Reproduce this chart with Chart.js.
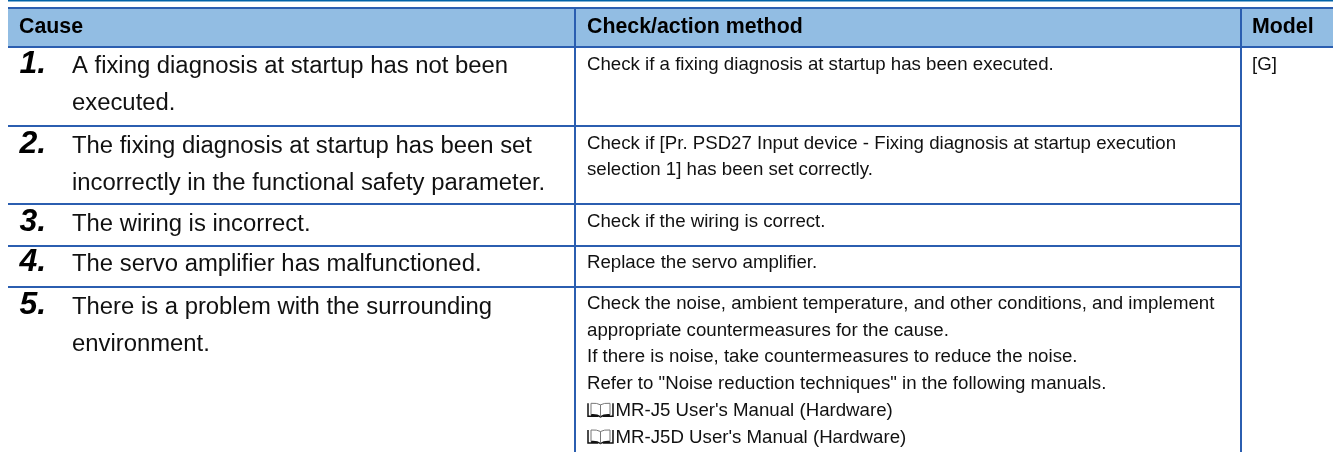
<!DOCTYPE html>
<html><head><meta charset="utf-8">
<style>html,body{margin:0;padding:0;background:#fff}canvas{display:block}</style>
<script src="https://cdn.jsdelivr.net/npm/chart.js@4"></script>
</head><body><canvas id="c" width="1333" height="452"></canvas>
<script>
const headers = ["Cause", "Check/action method", "Model"];
const numbers = ["1.", "2.", "3.", "4.", "5."];
const causes = [
  ["A fixing diagnosis at startup has not been", "executed."],
  ["The fixing diagnosis at startup has been set", "incorrectly in the functional safety parameter."],
  ["The wiring is incorrect."],
  ["The servo amplifier has malfunctioned."],
  ["There is a problem with the surrounding", "environment."]
];
const methods = [
  ["Check if a fixing diagnosis at startup has been executed."],
  ["Check if [Pr. PSD27 Input device - Fixing diagnosis at startup execution", "selection 1] has been set correctly."],
  ["Check if the wiring is correct."],
  ["Replace the servo amplifier."],
  ["Check the noise, ambient temperature, and other conditions, and implement",
   "appropriate countermeasures for the cause.",
   "If there is noise, take countermeasures to reduce the noise.",
   "Refer to \"Noise reduction techniques\" in the following manuals.",
   "\u0000MR-J5 User's Manual (Hardware)",
   "\u0000MR-J5D User's Manual (Hardware)"]
];
const model = "[G]";

// table layout
const L = 8, R = 1333, C1 = 575, C2 = 1241, HT = 8, HB = 47, BOTTOM = 452;
const rowTops = [47, 126, 204, 246, 287];
const causeBase = [73, 153, 231, 271, 314];
const methodBase = [70, 148.5, 227, 268, 309];
const causeFont = '23.85px "Liberation Sans"', methodFont = '18.67px "Liberation Sans"';
const causeLH = 37, methodLH = 26.7;

const seg = (x1,y1,x2,y2,c,w)=>({type:'line',data:[{x:x1,y:y1},{x:x2,y:y2}],borderColor:c,borderWidth:w,pointRadius:0,fill:false,order:1});
const BLUE = '#2b5eb0';
const datasets = [
  {type:'line',data:[{x:L,y:HT},{x:R,y:HT}],borderColor:'#92bde3',backgroundColor:'#92bde3',borderWidth:0,pointRadius:0,fill:{value:HB},order:3},
  seg(L,0.75,R,0.75,'#0062a8',1.5),
  seg(L,HT,R,HT,BLUE,2),
  ...rowTops.map((y,i)=>seg(L,y,i===0?R:C2,y,BLUE,2)),
  seg(C1,HT,C1,BOTTOM,BLUE,2),
  seg(C2,HT,C2,BOTTOM,BLUE,2)
];

const tablePlugin = {id:'tableText', afterDatasetsDraw(chart){
  const {ctx, scales:{x,y}} = chart;
  const put=(s,px,py,font,col)=>{ctx.font=font;ctx.fillStyle=col;ctx.fillText(s,x.getPixelForValue(px),y.getPixelForValue(py));};
  ctx.save(); ctx.textBaseline='alphabetic'; ctx.textAlign='left';
  const hf='bold 21.33px "Liberation Sans"';
  put(headers[0],19,33,hf,'#000'); put(headers[1],587,33,hf,'#000'); put(headers[2],1252,33,hf,'#000');
  rowTops.forEach((t,i)=>{
    put(numbers[i],19.5,causeBase[i],'italic bold 32px "Liberation Sans"','#000');
    causes[i].forEach((s,j)=>put(s,72,causeBase[i]+j*causeLH,causeFont,'#111'));
    methods[i].forEach((s,j)=>{
      const by=methodBase[i]+j*methodLH; let tx=587, str=s;
      if(s[0]==='\u0000'){str=s.slice(1);tx=615.5;book(ctx,x.getPixelForValue(587),y.getPixelForValue(by));}
      put(str,tx,by,methodFont,'#111');
    });
  });
  put(model,1252,70,methodFont,'#111');
  ctx.restore();
}};
function book(ctx,px,py){
  ctx.save();
  ctx.strokeStyle='#111';ctx.lineWidth=1.5;ctx.beginPath();
  ctx.moveTo(px+1,py-12.5);ctx.lineTo(px+1,py+0.5);ctx.lineTo(px+11,py+0.5);
  ctx.moveTo(px+16,py+0.5);ctx.lineTo(px+26,py+0.5);ctx.lineTo(px+26,py-12.5);
  ctx.moveTo(px+4,py-1);ctx.quadraticCurveTo(px+10,py-1.5,px+13.5,py+1);ctx.quadraticCurveTo(px+17,py-1.5,px+23,py-1);
  ctx.stroke();
  ctx.strokeStyle='#777';ctx.lineWidth=1;ctx.beginPath();
  ctx.moveTo(px+4,py-1);ctx.lineTo(px+4,py-12.5);ctx.quadraticCurveTo(px+10,py-13,px+13.5,py-11);ctx.lineTo(px+13.5,py+1);
  ctx.moveTo(px+23,py-1);ctx.lineTo(px+23,py-12.5);ctx.quadraticCurveTo(px+17,py-13,px+13.5,py-11);
  ctx.stroke();ctx.restore();
}
new Chart(document.getElementById('c'),{
  type:'line',data:{datasets},plugins:[tablePlugin],
  options:{responsive:false,animation:false,events:[],layout:{padding:0},
    plugins:{legend:{display:false},tooltip:{enabled:false},title:{display:false}},
    parsing:false,
    scales:{x:{type:'linear',min:0,max:1333,display:false},y:{type:'linear',min:0,max:452,reverse:true,display:false}}}
});
</script></body></html>
